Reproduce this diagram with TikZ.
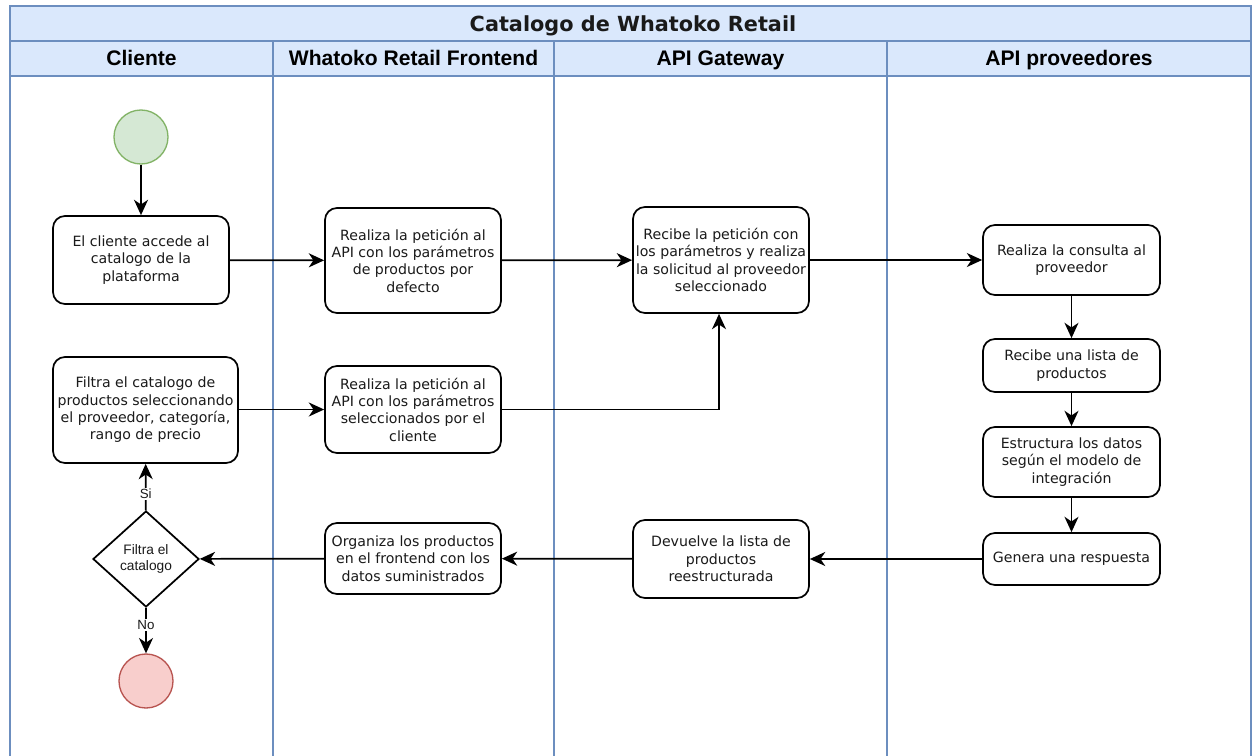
\documentclass[tikz,border=0pt]{standalone}
\usepackage{fontspec}
\setmainfont{DejaVu Sans}
\newfontfamily\hdrfont{Liberation Sans}
\usetikzlibrary{arrows.meta,shapes.geometric}

\definecolor{laneblue}{HTML}{DAE8FC}
\definecolor{laneline}{HTML}{6C8EBF}
\definecolor{startfill}{HTML}{D5E8D4}
\definecolor{startline}{HTML}{82B366}
\definecolor{endfill}{HTML}{F8CECC}
\definecolor{endline}{HTML}{B85450}
\definecolor{txt}{HTML}{1A1A1A}

\tikzset{
  lane/.style={draw=laneline, line width=1.1pt},
  title/.style={font=\bfseries\fontsize{15.6}{18}\selectfont, text=txt, anchor=base},
  header/.style={font=\hdrfont\bfseries\fontsize{15.8}{18}\selectfont, text=black, anchor=base},
  task/.style={draw=black, line width=1.3pt, rounded corners=9pt, fill=white,
    align=center, text=txt, inner sep=2pt, minimum width=132pt,
    font=\fontsize{10.6}{13}\selectfont},
  decision/.style={draw=black, line width=1.3pt, diamond, fill=white, align=center,
    inner sep=0pt, minimum width=79.5pt, minimum height=72pt, text=txt,
    font=\hdrfont\fontsize{10.3}{12.5}\selectfont},
  startev/.style={circle, draw=startline, fill=startfill, line width=1pt, minimum size=40.5pt, inner sep=0pt},
  endev/.style={circle, draw=endline, fill=endfill, line width=1pt, minimum size=40.5pt, inner sep=0pt},
  flow/.style={draw=black, line width=1.3pt, -{Stealth[length=11.5pt, width=10.5pt, inset=3.5pt]}},
  guard/.style={fill=white, inner sep=1pt, text=txt, font=\hdrfont\fontsize{10}{12}\selectfont},
}

\begin{document}
\begin{tikzpicture}[x=0.75pt, y=-0.75pt]
\useasboundingbox (0,0) rectangle (1252,756);
\clip (0,0) rectangle (1252,756);

% pool frame, title band and lane headers
\fill[white] (0,0) rectangle (1252,756);
\filldraw[lane, fill=laneblue] (10,6) rectangle (1251,76);
\draw[lane] (10,41) -- (1251,41);
\draw[lane] (10,6) rectangle (1251,780);
\foreach \xx in {273,554,887} \draw[lane] (\xx,41) -- (\xx,780);

\node[title]  (ttl) at (633,32) {Catalogo de Whatoko Retail};
\node[header] (h1) at (141.5,65.5) {Cliente};
\node[header] (h2) at (413.5,65.5) {Whatoko Retail Frontend};
\node[header] (h3) at (720.5,65.5) {API Gateway};
\node[header] (h4) at (1069,65.5) {API proveedores};

% Cliente lane
\node[startev] (start) at (141,137) {};
\node[task, minimum height=66pt] (acc) at (141,260) {El cliente accede al\\catalogo de la\\plataforma};
\node[task, minimum width=138.75pt, minimum height=79.5pt] (filt) at (145.5,410)
  {Filtra el catalogo de\\productos seleccionando\\el proveedor, categoría,\\rango de precio};
\node[decision] (dec) at (146,559) {Filtra el\\catalogo};
\node[endev] (fin) at (146,681) {};

% Frontend lane
\node[task, minimum height=78.75pt] (fe1) at (413,260.5) {Realiza la petición al\\API con los parámetros\\de productos por\\defecto};
\node[task, minimum height=65.25pt] (fe2) at (413,409.5) {Realiza la petición al\\API con los parámetros\\seleccionados por el\\cliente};
\node[task, minimum height=53.25pt] (fe3) at (413,558.5) {Organiza los productos\\en el frontend con los\\datos suministrados};

% Gateway lane
\node[task, minimum height=79.5pt] (gw1) at (721,260) {Recibe la petición con\\los parámetros y realiza\\la solicitud al proveedor\\seleccionado};
\node[task, minimum height=58.5pt] (gw2) at (721,559) {Devuelve la lista de\\productos\\reestructurada};

% Provider lane
\node[task, minimum width=132.75pt, minimum height=52.5pt] (pv1) at (1071.5,260) {Realiza la consulta al\\proveedor};
\node[task, minimum width=132.75pt, minimum height=39.75pt] (pv2) at (1071.5,365.5) {Recibe una lista de\\productos};
\node[task, minimum width=132.75pt, minimum height=52.5pt] (pv3) at (1071.5,462) {Estructura los datos\\según el modelo de\\integración};
\node[task, minimum width=132.75pt, minimum height=39pt] (pv4) at (1071.5,559) {Genera una respuesta};

% sequence flows
\draw[flow] (start) -- (acc);
\draw[flow] (acc) -- (fe1);
\draw[flow] (fe1) -- (gw1);
\draw[flow] (gw1) -- (pv1);
\draw[flow] (pv1) -- (pv2);
\draw[flow] (pv2) -- (pv3);
\draw[flow] (pv3) -- (pv4);
\draw[flow] (pv4) -- (gw2);
\draw[flow] (gw2) -- (fe3);
\draw[flow] (fe3) -- (dec);
\draw[flow] (dec) -- node[guard, pos=0.35] {Si} (filt);
\draw[flow] (dec) -- node[guard, pos=0.38] {No} (fin);
\draw[flow] (filt.east |- fe2) -- (fe2);
\draw[flow] (fe2) -| ([xshift=-1.5pt]gw1.south);
\end{tikzpicture}
\end{document}
